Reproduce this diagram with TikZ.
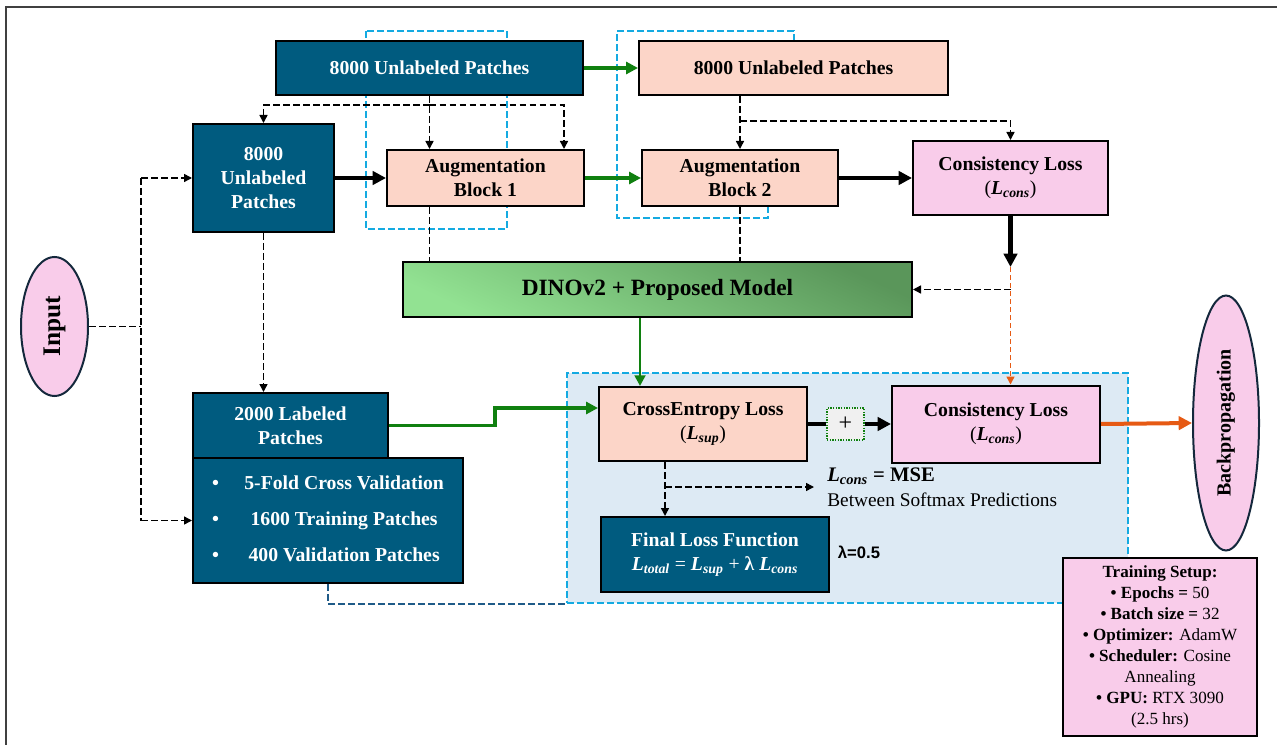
\documentclass[tikz,border=0pt]{standalone}
\usepackage{fontspec}
\setmainfont{Liberation Serif}
\newfontfamily\arialfont{Liberation Sans}
\usetikzlibrary{arrows.meta,calc,shapes.geometric}
\definecolor{dteal}{RGB}{0,91,127}
\definecolor{peach}{RGB}{252,213,200}
\definecolor{pinkb}{RGB}{249,204,234}
\definecolor{regfill}{RGB}{221,234,244}
\definecolor{cyanl}{RGB}{20,170,225}
\definecolor{garrow}{RGB}{16,128,16}
\definecolor{oarrow}{RGB}{230,90,20}
\definecolor{dbl}{RGB}{30,90,135}
\definecolor{ellline}{RGB}{20,40,60}
\newcommand{\Lsub}[1]{\textit{L}\textsubscript{\textit{#1}}}
\begin{document}
\begin{tikzpicture}[x=0.75pt,y=-0.75pt,
  box/.style={draw=black, line width=1.5pt, align=center, inner sep=0pt,
    font=\bfseries\fontsize{14.8}{18}\selectfont},
  dbox/.style={box, fill=dteal, text=white},
  pbox/.style={box, fill=peach},
  kbox/.style={box, fill=pinkb},
  ellbox/.style={ellipse, draw=ellline, line width=1.5pt, fill=pinkb, inner sep=0pt,
    font=\bfseries},
  dsh/.style={line width=1.1pt, dash pattern=on 5pt off 2.5pt, -{Triangle[length=6pt,width=6pt]}},
  dshn/.style={line width=1.1pt, dash pattern=on 5pt off 2.5pt},
  thk/.style={line width=3.2pt, -{Triangle[length=10pt,width=10pt]}},
  grn/.style={garrow, line width=2.8pt, -{Triangle[length=9pt,width=9pt]}},
  grnthin/.style={garrow, line width=2pt, -{Triangle[length=8pt,width=8pt]}},
  cyanbox/.style={cyanl, line width=1.4pt, dash pattern=on 5pt off 2.5pt}
]
\useasboundingbox (0,0) rectangle (1277,745);
% frame
\draw[line width=1.8pt, black!75] (6,745) -- (6,7) -- (1277,7);

% cyan dashed groups
\draw[cyanbox] (366,31) rectangle (507,229);
\draw[cyanbox] (794,41) -- (794,31) -- (617,31) -- (617,218) -- (768,218) -- (768,206);
\node[draw=cyanl, fill=regfill, line width=1.4pt, dash pattern=on 5pt off 2.5pt,
  minimum width=420.75pt, minimum height=172.5pt, inner sep=0pt] (region) at (847.5,488) {};

% nodes
\node[dbox, minimum width=230.25pt, minimum height=40.5pt] (top1) at (429.5,68) {8000 Unlabeled Patches};
\node[pbox, minimum width=231.75pt, minimum height=40.5pt] (top2) at (793.5,68) {8000 Unlabeled Patches};
\node[dbox, minimum width=105.75pt, minimum height=81pt] (tall) at (263.5,178) {8000\\Unlabeled\\Patches};
\node[pbox, minimum width=147.75pt, minimum height=42pt] (aug1) at (485.5,178) {Augmentation\\Block 1};
\node[pbox, minimum width=147pt, minimum height=42pt] (aug2) at (740,178) {Augmentation\\Block 2};
\node[kbox, minimum width=146.25pt, minimum height=55.5pt] (cons1) at (1010.5,178) {Consistency Loss\\{\mdseries(}\Lsub{cons}{\mdseries)}};
\node[box, minimum width=381.75pt, minimum height=41.25pt,
  top color={rgb,255:red,90;green,150;blue,90}, bottom color={rgb,255:red,146;green,226;blue,146},
  shading angle=-25, font=\bfseries\fontsize{17.5}{20}\selectfont] (dino) at (657.5,289.5) {DINOv2 + Proposed Model};
\node[ellbox, minimum width=50.25pt, minimum height=104.25pt, font=\bfseries\fontsize{19}{22}\selectfont] (input) at (54.5,326.5) {\rotatebox{90}{Input}};
\node[dbox, minimum width=146.25pt, minimum height=48.75pt] (lab) at (290.5,425.5) {2000 Labeled\\Patches};
\node[dbox, minimum width=202.5pt, minimum height=93.75pt] (list) at (328,520.5)
  {\begin{tabular}{@{}c@{\hspace{19pt}}c@{}}
   \textbullet & 5-Fold Cross Validation\\[9pt]
   \textbullet & 1600 Training Patches\\[9pt]
   \textbullet & 400 Validation Patches
   \end{tabular}};
\node[pbox, minimum width=156pt, minimum height=55.5pt] (ce) at (703,424) {CrossEntropy Loss\\{\mdseries(}\Lsub{sup}{\mdseries)}};
\node[draw=garrow, densely dotted, line width=1pt, fill=black!6, minimum width=27.75pt, minimum height=24pt, inner sep=0pt,
  font=\fontsize{18}{20}\selectfont] (plus) at (845.5,424) {+};
\node[kbox, minimum width=156pt, minimum height=57.75pt] (cons2) at (996,424) {Consistency Loss\\{\mdseries(}\Lsub{cons}{\mdseries)}};
\node[dbox, minimum width=171pt, minimum height=56.25pt] (final) at (715,554.5)
  {Final Loss Function\\\Lsub{total} {\mdseries=} \Lsub{sup} {\mdseries+} λ \Lsub{cons}};
\node[ellbox, minimum width=49.5pt, minimum height=191.25pt, font=\bfseries\fontsize{15}{18}\selectfont] (bp) at (1226,423) {\rotatebox{90}{Backpropagation}};
\node[kbox, minimum width=145.5pt, minimum height=133.5pt, font=\fontsize{12.8}{15.75}\selectfont] (train) at (1160,647)
  {\textbf{Training Setup:}\\
   \textbf{• Epochs =} 50\\
   \textbf{• Batch size =} 32\\
   \textbf{• Optimizer:} AdamW\\
   \textbf{• Scheduler:} Cosine\\
   Annealing\\
   \textbf{• GPU:} RTX 3090\\
   (2.5 hrs)};
\node[anchor=west, inner sep=0pt, font=\bfseries\fontsize{15.5}{18}\selectfont] (mse) at (827,476) {\Lsub{cons} = MSE};
\node[anchor=west, inner sep=0pt, font=\fontsize{14.5}{17}\selectfont] (soft) at (827,500) {Between Softmax Predictions};
\node[inner sep=0pt, font=\arialfont\bfseries\fontsize{12.5}{15}\selectfont] (lam) at (859,552) {λ=0.5};

% coordinates
\coordinate (j1) at (429.5,105);
\coordinate (j2) at (740,121);
\coordinate (k) at (1010.5,267);
\coordinate (vin) at (141,326.5);
\coordinate (vtop) at (141,178);
\coordinate (vbot) at (141,520.5);
\coordinate (cex) at (665,424);
\coordinate (br) at (665,487);

% connectors top row
\draw[grn] (top1.east) -- (top2.west);
\draw[grn] (aug1.east) -- (aug2.west);
\draw[thk] (tall.east) -- (aug1.west);
\draw[thk] (aug2.east) -- (cons1.west);

% dashed from top1
\draw[dsh] (top1.south) -- (top1.south |- aug1.north);
\draw[dsh] (j1) -| (tall.north);
\draw[dsh] (j1) -| ($(aug1.north east)+(-21,0)$);
% dashed from top2
\draw[dsh] (aug2.north |- top2.south) -- (aug2.north);
\draw[dsh] (j2) -| (cons1.north);
% aug to dino
\draw[dshn] (top1.south |- aug1.south) -- (top1.south |- dino.north);
\draw[dshn] (aug2.south) -- (aug2.south |- dino.north);
% consistency feedback
\draw[thk] (cons1.south) -- (k);
\draw[dsh] (k |- dino.east) -- (dino.east);
\draw[oarrow, line width=1.1pt, dash pattern=on 4pt off 2pt, -{Triangle[length=6pt,width=6pt]}] (k) -- (k |- cons2.north);
% dino to CE
\draw[grnthin] (dino.south -| 640,0) -- (ce.north -| 640,0);

% input distribution
\draw[dshn] (input.east) -- (vin);
\draw[dshn] (vtop) -- (vbot);
\draw[dsh] (vtop) -- (tall.west);
\draw[dsh] (vbot) -- (list.west);
\draw[dsh] (tall.south) -- (tall.south |- lab.north);

% labeled to CE
\draw[grn] (lab.east) -- ++(106,0) |- ($(ce.west)+(0,-16)$);
\draw[dbl, line width=1.4pt, dash pattern=on 5pt off 2.5pt] (list.south) -- (list.south |- region.south) -- (region.south west);

% losses
\draw[line width=3.2pt] (ce.east) -- (plus.west);
\draw[thk] (plus.east) -- (cons2.west);
\draw[oarrow, line width=3pt, -{Triangle[length=10pt,width=10pt]}] (cons2.east) -- (bp.west);
\draw[dsh] (cex |- ce.south) -- (cex |- final.north);
\draw[dsh] (br) -- (814,487);
\end{tikzpicture}
\end{document}
